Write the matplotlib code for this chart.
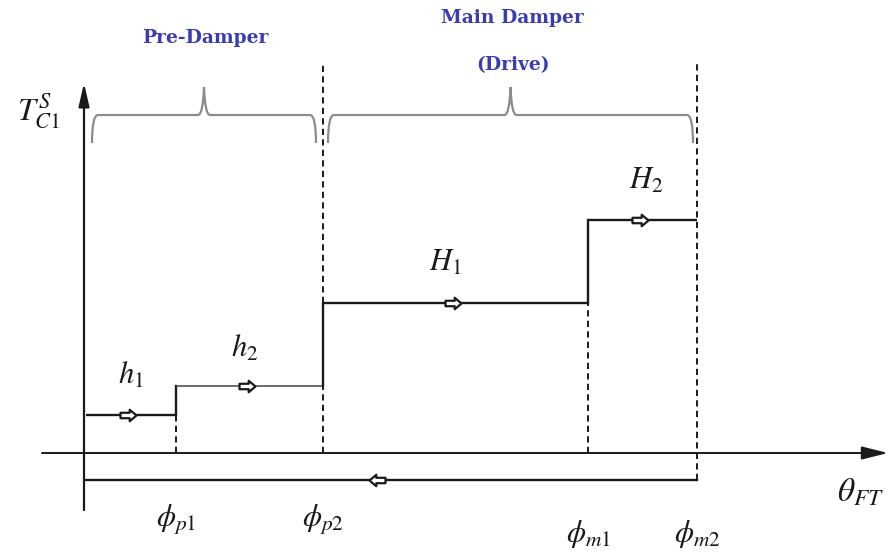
import matplotlib
matplotlib.use("Agg")
import matplotlib.pyplot as plt
from matplotlib.path import Path
from matplotlib.patches import PathPatch

plt.rcParams["mathtext.fontset"] = "stix"

# Spring-torque step characteristic of the clutch damper
phi_labels = [r"$\phi_{p1}$", r"$\phi_{p2}$", r"$\phi_{m1}$", r"$\phi_{m2}$"]
phi = [90, 237, 502, 611]                      # stage boundary angles
stage_labels = [r"$h_1$", r"$h_2$", r"$H_1$", r"$H_2$"]
torque = [38, 67, 150, 233]                    # torque level of each stage
return_torque = -27                            # unloading path
stage_edges = [0] + phi                        # start/end of every stage

INK = "#1a1a1a"
BLUE = "#3b3bb2"
GREY = "#8c8c8c"

fig = plt.figure(figsize=(8.91, 5.56), dpi=100)
ax = fig.add_axes([0, 0, 1, 1])
ax.set_xlim(-86, 805)
ax.set_ylim(-103, 453)
ax.axis("off")

# axes with arrow heads
ax.annotate("", xy=(802, 0), xytext=(-44, 0),
            arrowprops=dict(arrowstyle="-|>,head_length=1.6,head_width=0.4",
                            color=INK, lw=1.4, shrinkA=0, shrinkB=0))
ax.annotate("", xy=(-2, 370), xytext=(-2, -57),
            arrowprops=dict(arrowstyle="-|>,head_length=1.4,head_width=0.32",
                            color=INK, lw=1.6, shrinkA=0, shrinkB=0))

# hollow direction marker
arrow_marker = Path(
    [(-1.0, -0.34), (0.15, -0.34), (0.15, -0.72), (1.0, 0.0),
     (0.15, 0.72), (0.15, 0.34), (-1.0, 0.34), (-1.0, -0.34)],
    [Path.MOVETO] + [Path.LINETO] * 6 + [Path.CLOSEPOLY])
arrow_left = Path(arrow_marker.vertices * [-1, 1], arrow_marker.codes)

dash = (0, (3.2, 2.2))

# loading steps
for i, (x0, x1, t) in enumerate(zip(stage_edges[:-1], stage_edges[1:], torque)):
    lw = 1.1 if i == 1 else 1.7
    col = "#444444" if i == 1 else INK
    ax.plot([x0, x1], [t, t], color=col, lw=lw, solid_capstyle="butt")
    ax.plot([(x0 + x1) / 2 - 3], [t], marker=arrow_marker, ms=11.5,
            mfc="white", mec=INK, mew=1.6)
    if i + 1 < len(torque):
        ax.plot([x1, x1], [t, torque[i + 1]], color=INK, lw=1.7)

# unloading path
ax.plot([0, phi[-1]], [return_torque, return_torque], color=INK, lw=1.7)
ax.plot([phi[-1] / 2 - 15], [return_torque], marker=arrow_left, ms=11.5,
        mfc="white", mec=INK, mew=1.6)

# dashed boundary lines
ax.plot([phi[0], phi[0]], [0, torque[0]], color=INK, lw=1.4, ls=dash)
ax.plot([phi[1], phi[1]], [0, torque[1]], color=INK, lw=1.4, ls=dash)
ax.plot([phi[1], phi[1]], [torque[2], 390], color=INK, lw=1.4, ls=dash)
ax.plot([phi[2], phi[2]], [0, torque[2]], color=INK, lw=1.4, ls=dash)
ax.plot([phi[3], phi[3]], [return_torque, 390], color=INK, lw=1.4, ls=dash)


def brace(x0, x1, y=338, drop=28, rise=28, r=6):
    xc = (x0 + x1) / 2
    verts = [(x0, y - drop), (x0, y), (x0 + r, y),
             (xc - r, y), (xc - 1, y), (xc, y + rise),
             (xc + 1, y), (xc + r, y),
             (x1 - r, y), (x1, y), (x1, y - drop)]
    codes = [Path.MOVETO, Path.CURVE3, Path.CURVE3,
             Path.LINETO, Path.CURVE3, Path.CURVE3,
             Path.CURVE3, Path.CURVE3,
             Path.LINETO, Path.CURVE3, Path.CURVE3]
    ax.add_patch(PathPatch(Path(verts, codes), fill=False, ec=GREY, lw=1.6))


brace(6, phi[1] - 7)
brace(phi[1] + 5, phi[3] - 4)

bold = dict(family="DejaVu Serif", weight="bold", color=BLUE,
            fontsize=13.5, ha="center", va="center")
ax.text(119, 415, "Pre-Damper", **bold)
ax.text(426, 435, "Main Damper", **bold)
ax.text(427, 388, "(Drive)", **bold)

# math labels
ax.text(-47, 342, r"$T_{C1}^{S}$", fontsize=23, color=INK, ha="center", va="center")
label_pos = [(45, 78), (159, 105), (359, 191), (560, 273)]
for (x, y), s in zip(label_pos, stage_labels):
    ax.text(x, y, s, fontsize=22, color=INK, ha="center", va="center")
phi_y = [-67, -67, -81, -81]
for x, y, s in zip(phi, phi_y, phi_labels):
    ax.text(x, y, s, fontsize=22, color=INK, ha="center", va="center")
ax.text(775, -39, r"$\theta_{FT}$", fontsize=24, color=INK, ha="center", va="center")

fig.savefig("out.png", dpi=100, facecolor="white")
